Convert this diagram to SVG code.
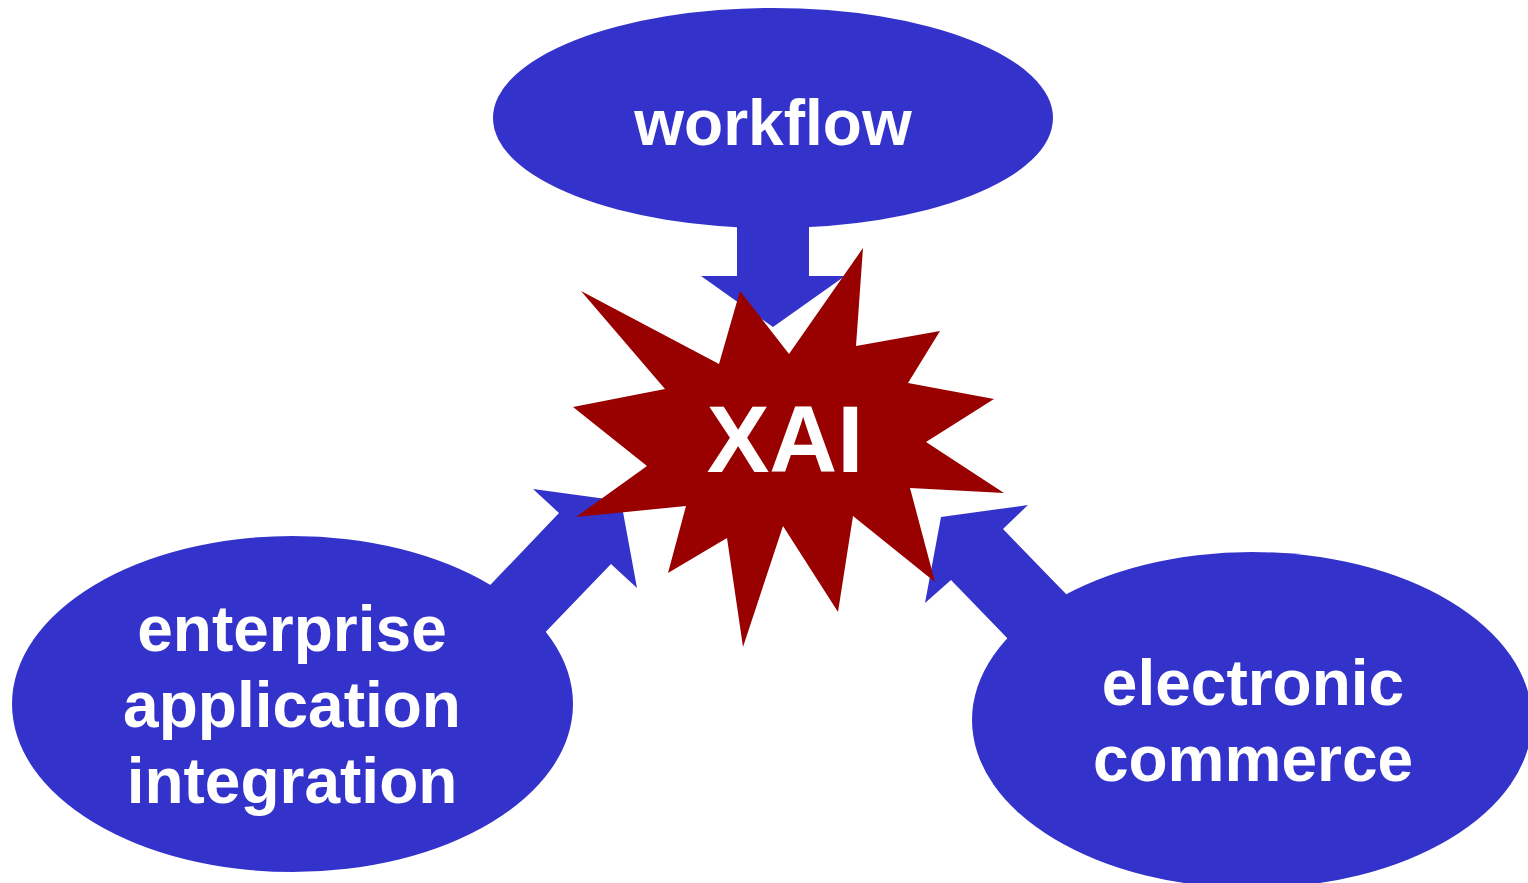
<svg xmlns="http://www.w3.org/2000/svg" width="1528" height="883" viewBox="0 0 1528 883">
<style>
.blue{fill:#3333CC}
.lbl{fill:#fff;font-family:"Liberation Sans",Arial,sans-serif;font-weight:bold;font-size:64px;text-anchor:middle}
</style>
<rect width="1528" height="883" fill="#fff"/>
<g id="connectors">
<polygon class="blue" points="737,200 809,200 809,276 845,276 773,327 701,276 737,276"/>
<polygon class="blue" points="455,622 559,513 533,489 621,501 637,588 611,564 505,674"/>
<polygon class="blue" points="1100,629 1003,529 1028,505 941,517 925,603 951,580 1040,672"/>
</g>
<g id="workflow">
<ellipse class="blue" cx="773" cy="118" rx="280" ry="110"/>
<text class="lbl" x="773" y="145">workflow</text>
</g>
<g id="eai">
<ellipse class="blue" cx="292.5" cy="704" rx="280.5" ry="168"/>
<text class="lbl" x="292" y="651">enterprise</text>
<text class="lbl" x="292" y="727">application</text>
<text class="lbl" x="292" y="803">integration</text>
</g>
<g id="ecommerce">
<ellipse class="blue" cx="1252" cy="720" rx="280" ry="168"/>
<text class="lbl" x="1253" y="705">electronic</text>
<text class="lbl" x="1253" y="781">commerce</text>
</g>
<g id="xai">
<polygon fill="#990000" points="581,291 719,364 740,291 789,354 863,248 856,346 940,331 908,383 994,399 926,442 1004,493 910,488 935,582 853,516 838,612 783,526 743,647 727,538 668,573 686,506 576,517 647,466 573,407 665,389"/>
<text x="785" y="472" fill="#fff" font-family="Liberation Sans,Arial,sans-serif" font-weight="bold" font-size="94" text-anchor="middle">XAI</text>
</g>
</svg>
